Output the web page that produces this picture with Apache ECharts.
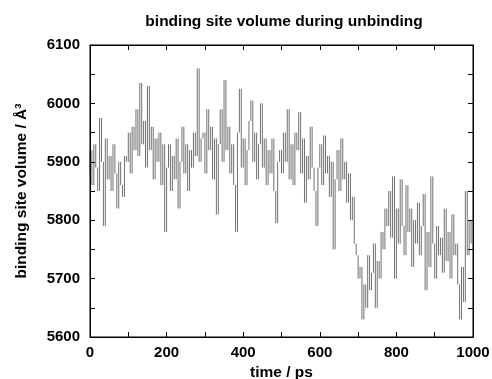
<html>
<head>
    <meta charset="UTF-8">
    <title>binding site volume</title>
    <style type="text/css">
    	html, body { margin: 0; padding: 0; background: #fff; }
    	#main { width: 492px; height: 379px; }
    </style>
</head>
<body>
	<div id="main"></div>
</body>
	<script src="https://cdn.jsdelivr.net/npm/echarts@6/dist/echarts.min.js"></script>
	<script type="text/javascript">
		// time axis: 0 .. 1000 ps, one value every 5 ps
		var timeStep = 5;
		var xTicks = [0, 200, 400, 600, 800, 1000];
		var yTicks = [5600, 5700, 5800, 5900, 6000, 6100];

		// binding site volume (A^3), 100 ps per row
		var volume = [
			5880, 5920, 5860, 5930, 5890, 5850, 5975, 5900, 5790, 5940, 5870, 5910, 5850, 5930, 5880, 5820, 5900, 5860, 5840, 5910,
			5900, 5950, 5880, 5960, 5920, 5990, 5910, 6035, 5930, 5970, 5890, 6030, 5920, 5960, 5870, 5940, 5900, 5950, 5860, 5930,
			5780, 5890, 5930, 5850, 5910, 5870, 5940, 5820, 5900, 5960, 5880, 5930, 5850, 5920, 5890, 5950, 5910, 6060, 5900, 5940,
			5950, 5880, 5990, 5920, 5960, 5870, 5940, 5810, 5930, 5990, 5900, 6040, 5920, 5960, 5880, 5930, 5860, 5780, 5950, 6025,
			5890, 5940, 5860, 5920, 5970, 6005, 5900, 5950, 5870, 5930, 6000, 5890, 5940, 5860, 5920, 5880, 5940, 5850, 5795, 5900,
			5920, 5880, 5950, 5900, 5990, 5870, 5930, 5860, 5950, 5920, 5985, 5880, 5940, 5830, 5910, 5870, 5960, 5890, 5850, 5790,
			5890, 5930, 5860, 5945, 5880, 5910, 5840, 5900, 5750, 5870, 5920, 5850, 5940, 5870, 5900, 5830, 5880, 5800, 5840, 5760,
			5740, 5700, 5720, 5630, 5690, 5650, 5740, 5680, 5710, 5760, 5650, 5730, 5700, 5780, 5750, 5820, 5790, 5850, 5770, 5875,
			5700, 5820, 5760, 5870, 5790, 5740, 5860, 5780, 5820, 5720, 5800, 5760, 5830, 5740, 5790, 5845, 5680, 5780, 5720, 5875,
			5760, 5700, 5790, 5740, 5770, 5710, 5820, 5730, 5780, 5700, 5810, 5740, 5760, 5690, 5630, 5720, 5660, 5850, 5740, 5800, 5760
		];

		// the dense trace shows up as short vertical strokes: one stroke per sample,
		// from this value to the next one
		var strokes = [];
		for (var i = 0; i < volume.length - 1; i++) {
			strokes.push([i * timeStep, volume[i], volume[i + 1]]);
		}

		var font = 'Liberation Sans, Arial, sans-serif';
		var nameStyle = { color: '#000', fontFamily: font, fontWeight: 'bold', fontSize: 15.5 };

		function mirrorTicks(extra) {
			var ax = {
				type: 'value',
				axisLine: { show: true, onZero: false, lineStyle: { color: '#000', width: 1 } },
				axisTick: { show: true, inside: true, length: 5, lineStyle: { color: '#000' } },
				axisLabel: { show: false },
				splitLine: { show: false }
			};
			for (var k in extra) ax[k] = extra[k];
			return ax;
		}

		var option = {
			animation: false,
			backgroundColor: '#fff',
			title: {
				text: 'binding site volume during unbinding',
				left: 279,
				top: 9,
				textAlign: 'center',
				textStyle: nameStyle
			},
			grid: {
				left: 90,
				right: 19,
				top: 45,
				bottom: 42,
				containLabel: false,
				outerBoundsMode: 'none',
				show: true,
				borderColor: '#000',
				borderWidth: 1
			},
			xAxis: [{
				type: 'value',
				min: 0,
				max: 1000,
				interval: 100,
				name: 'time / ps',
				nameLocation: 'middle',
				nameGap: 24,
				nameTextStyle: nameStyle,
				axisLine: { show: true, onZero: false, lineStyle: { color: '#000', width: 1 } },
				axisTick: { show: true, inside: true, length: 5, lineStyle: { color: '#000' } },
				axisLabel: {
					margin: 8,
					color: '#000', fontFamily: font, fontWeight: 'bold', fontSize: 15,
					formatter: function (v) { return xTicks.indexOf(v) >= 0 ? String(v) : ''; }
				},
				splitLine: { show: false }
			}, mirrorTicks({ position: 'top', min: 0, max: 1000, interval: 100 })],
			yAxis: [{
				type: 'value',
				min: 5600,
				max: 6100,
				interval: 50,
				name: 'binding site volume / Å³',
				nameLocation: 'middle',
				nameGap: 60,
				nameTextStyle: nameStyle,
				axisLine: { show: true, onZero: false, lineStyle: { color: '#000', width: 1 } },
				axisTick: { show: true, inside: true, length: 5, lineStyle: { color: '#000' } },
				axisLabel: {
					margin: 10,
					color: '#000', fontFamily: font, fontWeight: 'bold', fontSize: 15,
					formatter: function (v) { return yTicks.indexOf(v) >= 0 ? String(v) : ''; }
				},
				splitLine: { show: false }
			}, mirrorTicks({ position: 'right', min: 5600, max: 6100, interval: 50 })],
			series: [{
				name: 'volume',
				type: 'custom',
				xAxisIndex: 0,
				yAxisIndex: 0,
				data: strokes,
				renderItem: function (params, api) {
					var p1 = api.coord([api.value(0), api.value(1)]);
					var p2 = api.coord([api.value(0), api.value(2)]);
					return {
						type: 'line',
						shape: { x1: p1[0], y1: p1[1], x2: p2[0], y2: p2[1] },
						style: { stroke: '#111', lineWidth: 0.6 }
					};
				}
			}]
		};

		var myChart = echarts.init(document.getElementById('main'));
		myChart.setOption(option);
	</script>
</html>
